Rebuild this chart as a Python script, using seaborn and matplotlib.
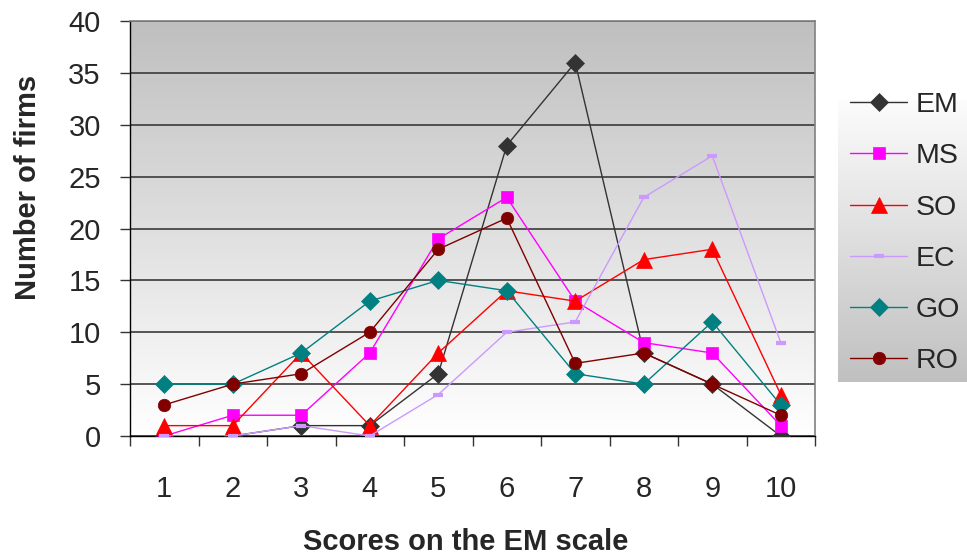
import numpy as np
import pandas as pd
import matplotlib
matplotlib.use("Agg")
import matplotlib.pyplot as plt
import seaborn as sns

# === Datos ===
scores = [1, 2, 3, 4, 5, 6, 7, 8, 9, 10]
em = [0, 0, 1, 1, 6, 28, 36, 8, 5, 0]
ms = [0, 2, 2, 8, 19, 23, 13, 9, 8, 1]
so = [1, 1, 8, 1, 8, 14, 13, 17, 18, 4]
ec = [0, 0, 1, 0, 4, 10, 11, 23, 27, 9]
go = [5, 5, 8, 13, 15, 14, 6, 5, 11, 3]
ro = [3, 5, 6, 10, 18, 21, 7, 8, 5, 2]
series_names = ["EM", "MS", "SO", "EC", "GO", "RO"]
y_ticks = [0, 5, 10, 15, 20, 25, 30, 35, 40]

df = pd.DataFrame({"score": scores, "EM": em, "MS": ms, "SO": so,
                   "EC": ec, "GO": go, "RO": ro})
long_df = df.melt(id_vars="score", var_name="serie", value_name="firms")

styles = {
    "EM": dict(color="#333333", marker="D", ms=9),
    "MS": dict(color="#ff00ff", marker="s", ms=9),
    "SO": dict(color="#ff0000", marker="^", ms=11),
    "EC": dict(color="#cc99ff", marker="_", ms=7, mew=3),
    "GO": dict(color="#008080", marker="D", ms=9.5),
    "RO": dict(color="#800000", marker="o", ms=9),
}

sns.set_style("white")
plt.rcParams["font.family"] = ["Liberation Sans", "DejaVu Sans"]

fig = plt.figure(figsize=(9.67, 5.55), dpi=100)
ax = fig.add_axes([130 / 967, 1 - 436 / 555, 685 / 967, 415 / 555])

# Fondo degradado del area del grafico (gris arriba, blanco abajo)
grad = np.linspace(0, 1, 256).reshape(-1, 1)
ax.imshow(grad, cmap=matplotlib.colors.LinearSegmentedColormap.from_list(
    "g", ["#bfbfbf", "#ffffff"]), aspect="auto", origin="upper",
    extent=[0.5, 10.5, 0, 40], zorder=0)

for name in series_names:
    st = styles[name]
    sub = long_df[long_df["serie"] == name]
    sns.lineplot(data=sub, x="score", y="firms", ax=ax, label=name,
                 color=st["color"], marker=st["marker"], markersize=st["ms"],
                 markeredgewidth=st.get("mew", 0.5), markeredgecolor=st["color"],
                 linewidth=1, zorder=3)

ax.set_xlim(0.5, 10.5)
ax.set_ylim(0, 40)
ax.set_yticks(y_ticks)
ax.set_xticks(scores)
ax.set_xticks(np.arange(0.5, 11, 1), minor=True)
ax.tick_params(axis="x", which="major", length=0, pad=28, labelsize=21)
ax.tick_params(axis="x", which="minor", length=7, width=1, color="#333333",
               direction="out", bottom=True)
ax.tick_params(axis="y", length=7, width=1, color="#333333", direction="out",
               left=True, pad=14, labelsize=21)
ax.grid(axis="y", color="#3a3a3a", linewidth=1.2, zorder=1)
for line in ax.get_ygridlines():
    line.set_zorder(1)

for side in ["left", "bottom"]:
    ax.spines[side].set_color("black")
    ax.spines[side].set_linewidth(1)
for side in ["top", "right"]:
    ax.spines[side].set_color("#808080")
    ax.spines[side].set_linewidth(1.2)

ax.set_xlabel("Scores on the EM scale", fontsize=21, fontweight="bold")
ax.set_ylabel("Number of firms", fontsize=21, fontweight="bold")
ax.xaxis.set_label_coords(0.49, -0.222)
ax.yaxis.set_label_coords(-0.128, 0.599)

# Leyenda con fondo degradado (blanco arriba, gris abajo)
handles, labels = ax.get_legend_handles_labels()
ax.get_legend().remove()
lax = fig.add_axes([838 / 967, 1 - 382 / 555, 140 / 967, 282 / 555])
lax.imshow(grad, cmap=matplotlib.colors.LinearSegmentedColormap.from_list(
    "g2", ["#fcfcfc", "#c0c0c0"]), aspect="auto", extent=[0, 1, 0, 1])
lax.axis("off")
fig.legend(handles, labels, loc="upper left",
           bbox_to_anchor=(839 / 967, 1 - 81 / 555), frameon=False,
           fontsize=20.5, handlelength=2.0, handletextpad=0.3,
           labelspacing=0.88, borderaxespad=0)

fig.savefig("out.png", dpi=100)
